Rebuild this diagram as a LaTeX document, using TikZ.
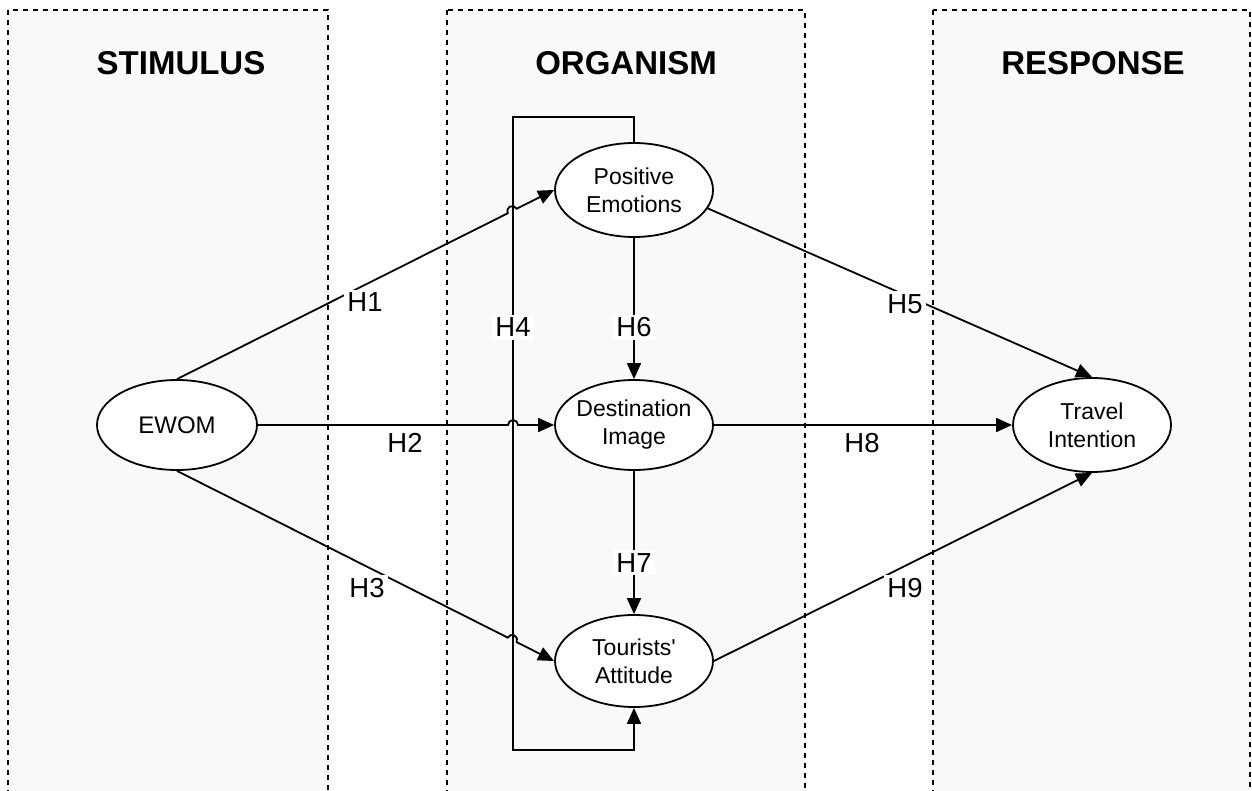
\documentclass[tikz,border=0pt]{standalone}
\usepackage{fontspec}
\setmainfont{Liberation Sans}[Ligatures=TeXOff]
\usetikzlibrary{arrows.meta,shapes.geometric,calc}
\begin{document}
\begin{tikzpicture}[x=1pt,y=-1pt,
  panel/.style={draw=black,fill=black!2.5,line width=2pt,dash pattern=on 5pt off 5pt},
  ell/.style={ellipse,draw,fill=white,line width=1.8pt,inner sep=0pt},
  etext/.style={align=center,font=\fontsize{23}{28}\selectfont},
  conn/.style={line width=1.8pt},
  arr/.style={conn,-{Triangle[length=16pt,width=14pt]}},
  hlab/.style={fill=white,inner sep=3pt,font=\fontsize{27.5}{32}\selectfont,anchor=base},
  ttl/.style={font=\bfseries\fontsize{33}{38}\selectfont,anchor=base}]
\useasboundingbox (0,0) rectangle (1252,791);
\clip (0,0) rectangle (1252,791);
\fill[white] (0,0) rectangle (1252,791);
% panels
\draw[panel] (8,10) rectangle (328,830);
\draw[panel] (447,10) rectangle (805,830);
\draw[panel] (933,10) rectangle (1250,830);
% titles
\node[ttl] (tS) at (181,75) {STIMULUS};
\node[ttl] (tO) at (626,75) {ORGANISM};
\node[ttl] (tR) at (1093,75) {RESPONSE};
% ellipses
\node[ell,minimum width=160pt,minimum height=90pt,label={[etext,font=\fontsize{24}{28}\selectfont]center:EWOM}] (EWOM) at (177,425) {};
\node[ell,minimum width=158pt,minimum height=94pt,label={[etext]center:Positive\\Emotions}] (PE) at (634,190) {};
\node[ell,minimum width=158pt,minimum height=90pt,label={[etext]center:Destination\\Image}] (DI) at (634,425) {};
\node[ell,minimum width=158pt,minimum height=92pt,label={[etext]center:Tourists'\\Attitude}] (TA) at (634,661) {};
\node[ell,minimum width=158pt,minimum height=94pt,label={[etext]center:Travel\\Intention}] (TI) at (1092,425) {};
% loop H4
\coordinate (L1) at (513,117);
\coordinate (L2) at (513,750);
\draw[arr] (PE.north) |- (L1) -- (L2) -| (TA.south);
% EWOM edges with line jumps
\coordinate (x1) at ($(EWOM.north)!0.88889!(PE.west)$);
\draw[arr] (EWOM.north) -- ($(x1)!5pt!(EWOM.north)$) arc[start angle=153.31,end angle=333.31,radius=5] -- (PE.west);
\draw[arr] (EWOM.east) -- (508,425) arc[start angle=180,end angle=360,radius=5] -- (DI.west);
\coordinate (x3) at ($(EWOM.south)!0.88889!(TA.west)$);
\draw[arr] (EWOM.south) -- ($(x3)!5pt!(EWOM.south)$) arc[start angle=206.81,end angle=386.81,radius=5] -- (TA.west);
% organism edges
\draw[arr] (PE.south) -- (DI.north);
\draw[arr] (DI.south) -- (TA.north);
% response edges
\draw[arr] (PE.-14) -- (TI.north);
\draw[arr] (DI.east) -- (TI.west);
\draw[arr] (TA.east) -- (TI.south);
% labels
\node[hlab] (h1) at (365,312) {H1};
\node[hlab] (h2) at (405,452) {H2};
\node[hlab] (h3) at (367,597) {H3};
\node[hlab] (h4) at (513,337) {H4};
\node[hlab] (h5) at (905,313) {H5};
\node[hlab] (h6) at (634,337) {H6};
\node[hlab] (h7) at (634,572) {H7};
\node[hlab] (h8) at (862,452) {H8};
\node[hlab] (h9) at (905,597) {H9};
\end{tikzpicture}
\end{document}
